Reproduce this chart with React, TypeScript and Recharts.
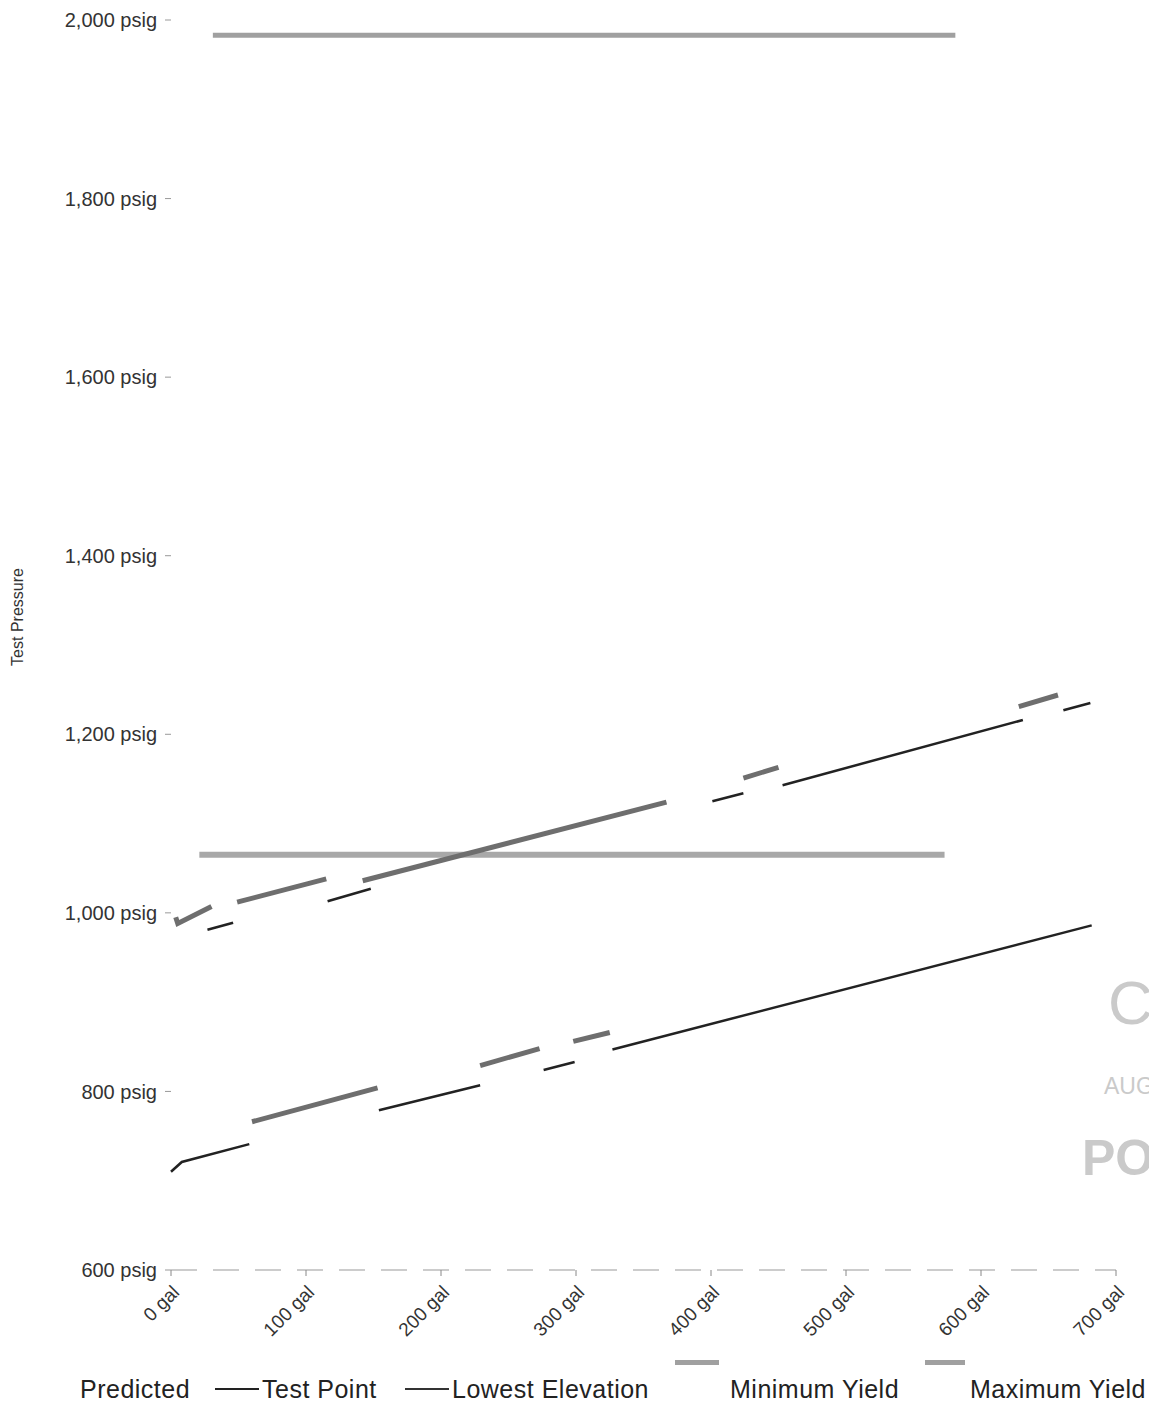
import { LineChart, Line, XAxis, YAxis } from "recharts"

// gallons pumped vs. test pressure, each series drawn as separate runs (the source plot is broken into pieces)
const testPointGal = [[3.5, 5, 30], [27, 46], [49, 115], [116, 148], [142, 367], [401, 424], [424, 450], [453, 631], [628, 657], [661, 681]]
const testPointPsig = [[995, 988, 1007], [981, 989], [1012, 1038], [1013, 1027], [1036, 1124], [1125, 1134], [1151, 1163], [1143, 1216], [1231, 1244], [1227, 1235]]

const lowestGal = [[0, 8, 58], [60, 153], [154, 229], [229, 273], [276, 299], [298, 325], [327, 682]]
const lowestPsig = [[710, 721, 741], [766, 804], [779, 807], [829, 848], [824, 833], [856, 866], [847, 986]]

const minYieldGal = [21, 573]
const minYieldPsig = 1065
const maxYieldGal = [31, 581]
const maxYieldPsig = 1983

const xTicks = [0, 100, 200, 300, 400, 500, 600, 700]
const yTicks = [600, 800, 1000, 1200, 1400, 1600, 1800, 2000]

// runs that look shaded/highlighted in the source
const testPointShaded = [0, 2, 4, 6, 8]
const lowestShaded = [1, 3, 5]

const toPoints = (gal: number[][], psig: number[][]) =>
  gal.map((run, i) => run.map((g, j) => ({ gal: g, psig: psig[i][j] })))

const testPointRuns = toPoints(testPointGal, testPointPsig)
const lowestRuns = toPoints(lowestGal, lowestPsig)
const minYield = minYieldGal.map((g) => ({ gal: g, psig: minYieldPsig }))
const maxYield = maxYieldGal.map((g) => ({ gal: g, psig: maxYieldPsig }))

const font = "'Liberation Sans', Arial, sans-serif"

function XTick({ x, y, payload }: any) {
  return (
    <text x={x} y={y} transform={`rotate(-45 ${x} ${y})`} textAnchor="end" dy="0.7em" fontSize={19} fill="#333" fontFamily={font}>
      {payload.value} gal
    </text>
  )
}

const legendText = { position: "absolute" as const, top: 1366, fontSize: 25, color: "#222", whiteSpace: "nowrap" as const, letterSpacing: 0.5, lineHeight: "30px" }

export default function App() {
  return (
    <div style={{ position: "relative", width: 1149, height: 1398, overflow: "hidden", fontFamily: font }}>
      <LineChart width={1141} height={1360} margin={{ top: 12, right: 33, left: 0, bottom: 38 }}>
        <XAxis
          dataKey="gal"
          type="number"
          domain={[0, 700]}
          ticks={xTicks}
          allowDuplicatedCategory={false}
          height={60}
          tick={<XTick />}
          tickSize={6}
          tickMargin={8}
          tickLine={{ stroke: "#888" }}
          axisLine={{ stroke: "#999", strokeDasharray: "26 16" }}
        />
        <YAxis
          dataKey="psig"
          type="number"
          domain={[600, 2000]}
          ticks={yTicks}
          width={163}
          tickSize={6}
          tickMargin={8}
          tickLine={{ stroke: "#999" }}
          axisLine={false}
          tick={{ fontSize: 20, fill: "#333", fontFamily: font }}
          tickFormatter={(v: number) => `${v.toLocaleString("en-US")} psig`}
          label={{
            content: () => (
              <text x={15} y={609} transform="rotate(-90 15 609)" textAnchor="middle" fontSize={16} fill="#333" fontFamily={font}>
                Test Pressure
              </text>
            ),
          }}
        />
        <Line data={maxYield} dataKey="psig" stroke="#a0a0a0" strokeWidth={5} dot={false} isAnimationActive={false} />
        <Line data={minYield} dataKey="psig" stroke="#a8a8a8" strokeWidth={6} dot={false} isAnimationActive={false} />
        {lowestRuns.map((run, i) => (
          <Line
            key={`low-${i}`}
            data={run}
            dataKey="psig"
            stroke={lowestShaded.includes(i) ? "#6e6e6e" : "#222"}
            strokeWidth={lowestShaded.includes(i) ? 5 : 2.5}
            dot={false}
            isAnimationActive={false}
          />
        ))}
        {testPointRuns.map((run, i) => (
          <Line
            key={`tp-${i}`}
            data={run}
            dataKey="psig"
            stroke={testPointShaded.includes(i) ? "#6e6e6e" : "#222"}
            strokeWidth={testPointShaded.includes(i) ? 5 : 2.5}
            dot={false}
            isAnimationActive={false}
          />
        ))}
      </LineChart>

      {/* legend, laid out like the scanned original */}
      <div style={{ ...legendText, left: 72 }}>Predicted</div>
      <div style={{ position: "absolute", top: 1380, left: 207, width: 44, height: 2, background: "#222" }} />
      <div style={{ ...legendText, left: 254 }}>Test Point</div>
      <div style={{ position: "absolute", top: 1380, left: 397, width: 44, height: 2, background: "#333" }} />
      <div style={{ ...legendText, left: 444 }}>Lowest Elevation</div>
      <div style={{ position: "absolute", top: 1352, left: 667, width: 44, height: 5, background: "#a0a0a0" }} />
      <div style={{ ...legendText, left: 722 }}>Minimum Yield</div>
      <div style={{ position: "absolute", top: 1352, left: 917, width: 40, height: 5, background: "#a0a0a0" }} />
      <div style={{ ...legendText, left: 962 }}>Maximum Yield</div>

      {/* stamp at the right edge, kept inside the page */}
      <div style={{ position: "absolute", top: 955, left: 1100, fontSize: 62, lineHeight: "80px", color: "#cacaca" }}>C</div>
      <div style={{ position: "absolute", top: 1060, left: 1096, fontSize: 23, lineHeight: "36px", color: "#cacaca" }}>AUG</div>
      <div style={{ position: "absolute", top: 1115, left: 1074, fontSize: 50, lineHeight: "70px", fontWeight: "bold", color: "#cacaca" }}>PO</div>
    </div>
  )
}
